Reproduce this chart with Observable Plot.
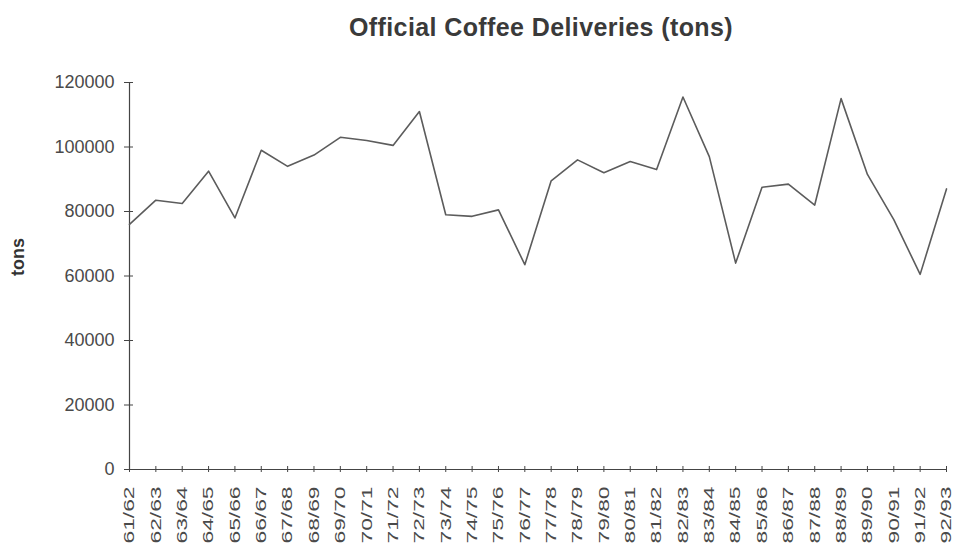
<!DOCTYPE html>
<html>
<head>
<meta charset="utf-8">
<script src="https://cdn.jsdelivr.net/npm/d3@7"></script>
<script src="https://cdn.jsdelivr.net/npm/@observablehq/plot@0.6"></script>
<style>
  html, body { margin: 0; padding: 0; background: #fff; }
  #wrap { position: relative; width: 953px; }
  #title {
    height: 45px; position: relative;
    font-family: "Liberation Sans", Arial, sans-serif;
  }
  #title span {
    position: absolute; left: 541px; top: 13px; transform: translateX(-50%);
    font-size: 25px; font-weight: bold; color: #3a3a3a; white-space: nowrap;
    letter-spacing: 0.4px;
  }
</style>
</head>
<body>
<div id="wrap">
  <div id="title"><span>Official Coffee Deliveries (tons)</span></div>
  <div id="chart"></div>
</div>
<script>
// Crop years
const seasons = [
  "61/62", "62/63", "63/64", "64/65", "65/66", "66/67", "67/68", "68/69",
  "69/70", "70/71", "71/72", "72/73", "73/74", "74/75", "75/76", "76/77",
  "77/78", "78/79", "79/80", "80/81", "81/82", "82/83", "83/84", "84/85",
  "85/86", "86/87", "87/88", "88/89", "89/90", "90/91", "91/92", "92/93"
];

// Official deliveries, tons
const deliveries = [
  76000, 83500, 82500, 92500, 78000, 99000, 94000, 97500,
  103000, 102000, 100500, 111000, 79000, 78500, 80500, 63500,
  89500, 96000, 92000, 95500, 93000, 115500, 97000, 64000,
  87500, 88500, 82000, 115000, 91500, 77500, 60500, 87000
];

const yTicks = [0, 20000, 40000, 60000, 80000, 100000, 120000];

const data = seasons.map((s, i) => ({season: s, tons: deliveries[i]}));

const axisColor = "#444";
const textColor = "#4a4a4a";

const chart = Plot.plot({
  width: 953,
  height: 504,
  marginTop: 37,
  marginBottom: 80,
  marginLeft: 129,
  marginRight: 7,
  style: {
    fontFamily: "'Liberation Sans', Arial, sans-serif",
    fontSize: "18px",
    color: textColor,
    background: "#fff"
  },
  x: {type: "point", domain: seasons, padding: 0, round: false},
  y: {domain: [0, 120000]},
  marks: [
    // axis lines
    Plot.ruleY([0], {stroke: axisColor, strokeWidth: 1.2}),
    Plot.ruleX([seasons[0]], {y1: 0, y2: 120000, stroke: axisColor, strokeWidth: 1.2}),
    // y ticks crossing the axis, then labels
    Plot.axisY({ticks: yTicks, tickSize: 9, dx: 4, text: null, label: null, stroke: axisColor}),
    Plot.axisY({
      ticks: yTicks, tickSize: 0, tickPadding: 15,
      tickFormat: d3.format("d"), label: null,
      fill: textColor, fontSize: 18, style: {letterSpacing: "2.2px"}
    }),
    // x ticks crossing the axis, then rotated labels
    Plot.axisX({tickSize: 6, dy: -3, text: null, stroke: axisColor, label: null}),
    Plot.axisX({
      tickSize: 0, tickPadding: 17, tickRotate: -90, label: null,
      fill: textColor, fontSize: 15
    }),
    Plot.text(["tons"], {
      frameAnchor: "left", dx: -111, rotate: -90,
      fontWeight: "bold", fontSize: 18, fill: "#333"
    }),
    Plot.line(data, {x: "season", y: "tons", stroke: "#5c5c5c", strokeWidth: 1.6})
  ]
});

// widen the season labels along their reading direction
d3.select(chart)
  .selectAll('g[aria-label="x-axis tick label"] text')
  .attr("transform", function () {
    return (this.getAttribute("transform") || "") + " scale(1.52,1)";
  });

document.getElementById("chart").appendChild(chart);
</script>
</body>
</html>
